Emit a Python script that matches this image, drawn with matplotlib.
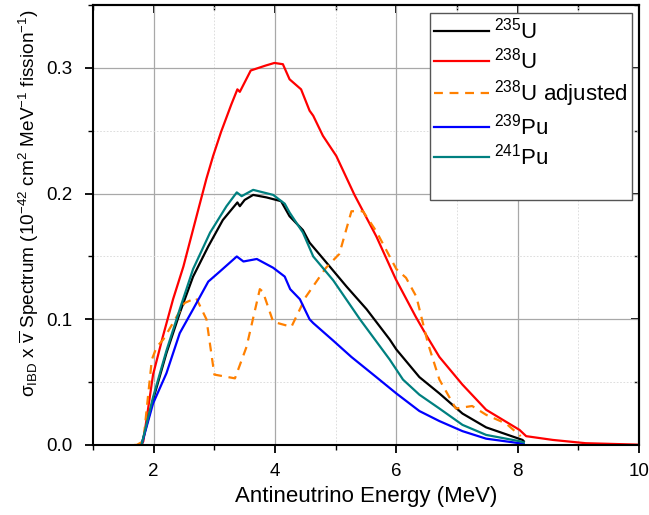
import matplotlib
matplotlib.use("Agg")
import matplotlib.pyplot as plt
from matplotlib.ticker import MultipleLocator

plt.rcParams['font.family'] = ['Liberation Sans', 'DejaVu Sans']
plt.rcParams['mathtext.fontset'] = 'custom'
plt.rcParams['mathtext.rm'] = 'Liberation Sans'
plt.rcParams['mathtext.it'] = 'Liberation Sans:italic'
plt.rcParams['mathtext.default'] = 'regular'

u238_x = [1.80, 1.83, 1.99, 2.15, 2.32, 2.49, 2.62, 2.75, 2.87, 2.98, 3.11, 3.28, 3.38, 3.42,
          3.60, 3.85, 3.99, 4.13, 4.24, 4.43, 4.57, 4.63, 4.79, 5.01, 5.31, 5.67, 5.99, 6.32,
          6.51, 6.71, 7.09, 7.48, 8.03, 8.14, 8.58, 9.12, 9.95, 10.0]
u238_y = [0.0, 0.003, 0.056, 0.086, 0.116, 0.142, 0.166, 0.190, 0.212, 0.230, 0.249, 0.271,
          0.283, 0.281, 0.298, 0.302, 0.304, 0.303, 0.291, 0.283, 0.266, 0.262, 0.246, 0.230,
          0.199, 0.166, 0.132, 0.102, 0.086, 0.070, 0.048, 0.028, 0.012, 0.007, 0.004, 0.0014,
          0.0003, 0.0002]

u235_x = [1.80, 1.99, 2.21, 2.43, 2.65, 2.90, 3.14, 3.38, 3.42, 3.50, 3.64, 3.86, 4.10, 4.24,
          4.46, 4.57, 4.85, 5.18, 5.51, 5.89, 6.00, 6.38, 6.71, 7.09, 7.48, 8.08, 8.10]
u235_y = [0.0, 0.036, 0.073, 0.105, 0.134, 0.158, 0.179, 0.193, 0.190, 0.195, 0.199, 0.197,
          0.194, 0.182, 0.171, 0.161, 0.145, 0.126, 0.108, 0.084, 0.076, 0.054, 0.041, 0.025,
          0.014, 0.004, 0.003]

pu241_x = [1.80, 1.99, 2.21, 2.43, 2.65, 2.93, 3.20, 3.37, 3.45, 3.64, 3.97, 4.16, 4.24, 4.46,
           4.63, 4.96, 5.40, 5.89, 6.11, 6.38, 6.71, 7.09, 7.48, 8.03, 8.10]
pu241_y = [0.0, 0.038, 0.075, 0.108, 0.140, 0.169, 0.190, 0.201, 0.198, 0.203, 0.199, 0.192,
           0.185, 0.169, 0.150, 0.131, 0.100, 0.068, 0.052, 0.040, 0.029, 0.016, 0.008, 0.003,
           0.002]

pu239_x = [1.80, 1.99, 2.21, 2.43, 2.65, 2.90, 3.09, 3.37, 3.48, 3.70, 3.97, 4.16, 4.25, 4.41,
           4.57, 4.63, 4.96, 5.26, 5.67, 6.00, 6.38, 6.71, 7.09, 7.48, 8.03, 8.10]
pu239_y = [0.0, 0.033, 0.057, 0.089, 0.108, 0.130, 0.138, 0.150, 0.146, 0.148, 0.141, 0.134,
           0.124, 0.116, 0.100, 0.097, 0.083, 0.070, 0.054, 0.041, 0.027, 0.019, 0.011, 0.005,
           0.0014, 0.001]

u238adj_x = [1.68, 1.72, 1.83, 1.97, 2.05, 2.16, 2.51, 2.70, 2.87, 3.00, 3.34, 3.53, 3.75, 3.80,
             3.97, 4.27, 4.51, 4.84, 5.06, 5.26, 5.45, 5.67, 6.00, 6.16, 6.33, 6.52, 6.71, 6.98,
             7.25, 7.48, 7.81, 8.05]
u238adj_y = [0.0, 0.0, 0.003, 0.068, 0.078, 0.084, 0.113, 0.117, 0.100, 0.056, 0.053, 0.078,
             0.124, 0.122, 0.098, 0.094, 0.118, 0.141, 0.152, 0.186, 0.186, 0.170, 0.140, 0.133,
             0.118, 0.081, 0.052, 0.029, 0.031, 0.024, 0.017, 0.007]

fig = plt.figure(figsize=(6.49, 5.15), dpi=100)
ax = fig.add_axes([0.1433, 0.136, 0.8413, 0.854])

ax.plot(u235_x, u235_y, color='black', lw=1.6, label=r'$^{235}$U')
ax.plot(u238_x, u238_y, color='#ff0000', lw=1.6, label=r'$^{238}$U')
ax.plot(u238adj_x, u238adj_y, color='#ff8000', lw=1.6, ls=(0, (4, 3)), label=r'$^{238}$U adjusted')
ax.plot(pu239_x, pu239_y, color='#0000ff', lw=1.6, label=r'$^{239}$Pu')
ax.plot(pu241_x, pu241_y, color='#008080', lw=1.6, label=r'$^{241}$Pu')
ax.plot([], [], color='none', label=' ')

ax.set_xlim(1, 10)
ax.set_ylim(0, 0.35)
ax.xaxis.set_major_locator(MultipleLocator(2))
ax.xaxis.set_minor_locator(MultipleLocator(1))
ax.yaxis.set_major_locator(MultipleLocator(0.1))
ax.yaxis.set_minor_locator(MultipleLocator(0.05))

ax.grid(which='major', color='#a8a8a8', lw=0.9, ls='-')
ax.grid(which='minor', color='#d8d8d8', lw=0.6, ls=(0, (2, 2)))
ax.set_axisbelow(True)

for s in ax.spines.values():
    s.set_linewidth(1.5)

ax.tick_params(which='major', direction='out', length=6, width=1.3, labelsize=13.5)
ax.tick_params(which='minor', direction='out', length=3.5, width=1.0)
ax.tick_params(axis='x', which='major', pad=7)
ax.tick_params(axis='y', which='major', pad=8.5)

top = ax.secondary_xaxis('top')
top.xaxis.set_major_locator(MultipleLocator(2))
top.xaxis.set_minor_locator(MultipleLocator(1))
top.tick_params(which='major', direction='in', length=6, width=1.3, labeltop=False)
top.tick_params(which='minor', direction='in', length=3.5, width=1.0)
right = ax.secondary_yaxis('right')
right.yaxis.set_major_locator(MultipleLocator(0.1))
right.yaxis.set_minor_locator(MultipleLocator(0.05))
right.tick_params(which='major', direction='in', length=6, width=1.3, labelright=False)
right.tick_params(which='minor', direction='in', length=3.5, width=1.0)
top.spines['top'].set_linewidth(1.5)
right.spines['right'].set_linewidth(1.5)

ax.set_xlabel('Antineutrino Energy (MeV)', fontsize=16, labelpad=4)
ax.set_ylabel(r'$\sigma_{IBD}$ x $\overline{v}$ Spectrum (10$^{-42}$ cm$^2$ MeV$^{-1}$ fission$^{-1}$)',
              fontsize=13.7)
ax.yaxis.set_label_coords(-0.095, 0.549)

leg = ax.legend(loc='upper right', bbox_to_anchor=(0.988, 0.982), fontsize=16, frameon=True,
                fancybox=False, edgecolor='#555555', handlelength=2.45, labelspacing=0.2,
                borderpad=0.2, borderaxespad=0, handletextpad=0.25)
leg.get_frame().set_linewidth(1.0)
leg.get_frame().set_alpha(1)

fig.savefig('out.png', dpi=100)
